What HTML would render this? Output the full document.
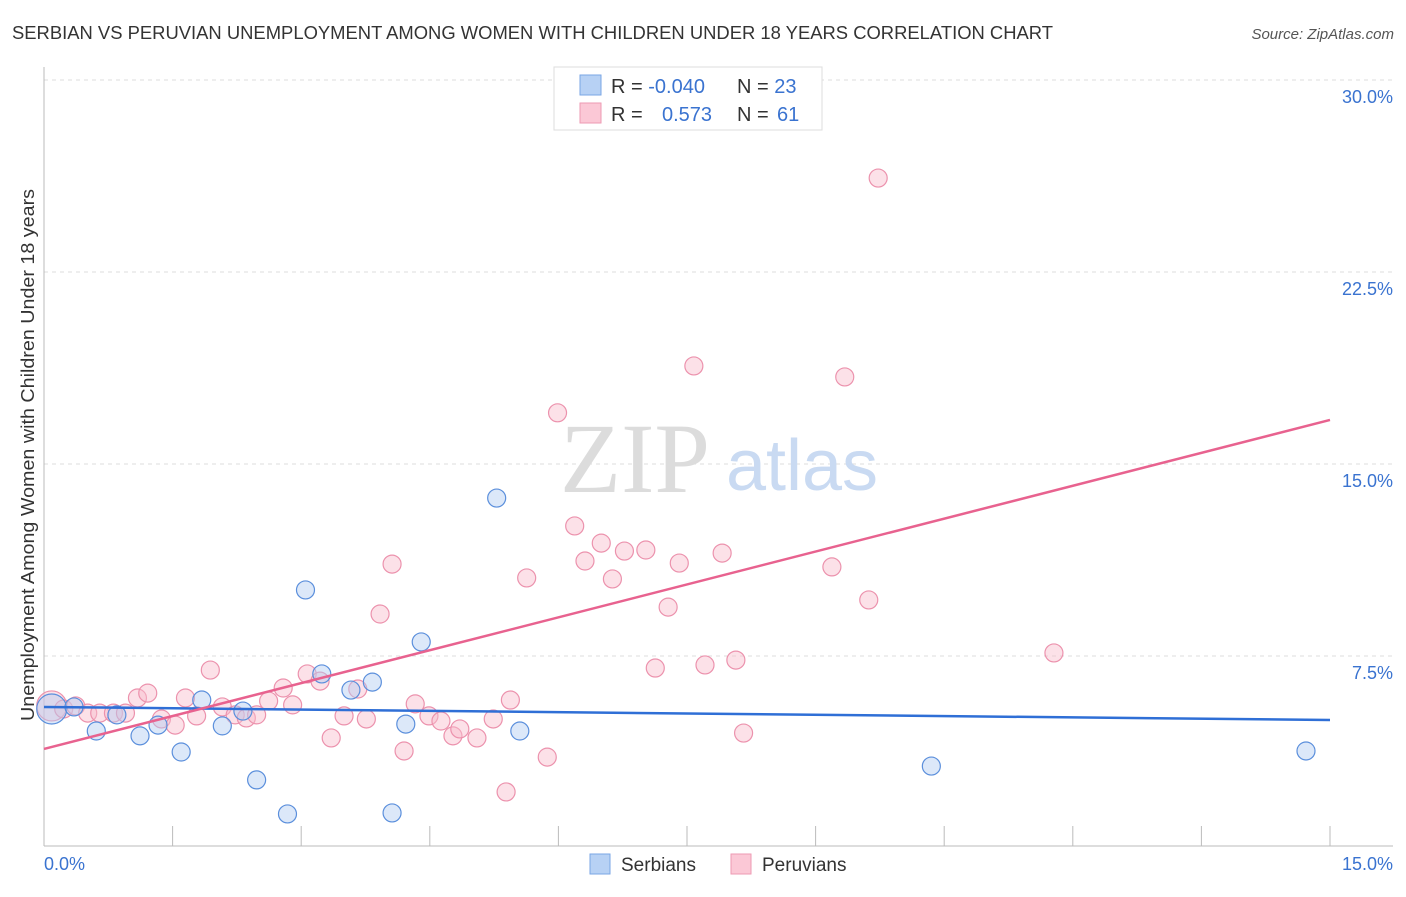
<!DOCTYPE html>
<html><head><meta charset="utf-8"><style>
body{margin:0;background:#fff;font-family:"Liberation Sans",sans-serif;}
</style></head><body>
<svg id="chart" width="1406" height="892" xmlns="http://www.w3.org/2000/svg" font-family="Liberation Sans, sans-serif">
<text x="12" y="39" font-size="18" fill="#333" textLength="1041" lengthAdjust="spacingAndGlyphs">SERBIAN VS PERUVIAN UNEMPLOYMENT AMONG WOMEN WITH CHILDREN UNDER 18 YEARS CORRELATION CHART</text>
<text x="1394" y="39" font-size="15" fill="#555" font-style="italic" text-anchor="end">Source: ZipAtlas.com</text>
<text x="0" y="0" transform="translate(34,455) rotate(-90)" font-size="18" fill="#333" text-anchor="middle" textLength="532" lengthAdjust="spacingAndGlyphs">Unemployment Among Women with Children Under 18 years</text>
<g id="grid"></g>
<g>
<text x="635" y="492" font-size="100" fill="#dcdcdc" font-family="Liberation Serif, serif" text-anchor="middle">ZIP</text>
<text x="802" y="490" font-size="72" fill="#c9daf2" text-anchor="middle">atlas</text>
</g>
<g id="marks"></g>
<g>
<rect x="554" y="67" width="268" height="63" fill="#fff" stroke="#ddd"/>
<rect x="580" y="75" width="21" height="20" fill="#b7d1f4" stroke="#7aa6e4"/>
<rect x="580" y="103" width="21" height="20" fill="#fbc8d6" stroke="#ee9ab3"/>
<text x="611" y="93" font-size="20" fill="#333">R = <tspan fill="#3a73d0">-0.040</tspan></text>
<text x="737" y="93" font-size="20" fill="#333">N = <tspan fill="#3a73d0">23</tspan></text>
<text x="611" y="121" font-size="20" fill="#333">R = <tspan fill="#3a73d0" x="662">0.573</tspan></text>
<text x="737" y="121" font-size="20" fill="#333">N = <tspan fill="#3a73d0" x="777">61</tspan></text>
</g>
<g>
<rect x="590" y="854" width="20" height="20" fill="#b7d1f4" stroke="#7aa6e4"/>
<text x="621" y="871" font-size="19" fill="#333">Serbians</text>
<rect x="731" y="854" width="20" height="20" fill="#fbc8d6" stroke="#ee9ab3"/>
<text x="762" y="871" font-size="19" fill="#333">Peruvians</text>
</g>
</svg>
<script>
const yTicks=[7.5,15,22.5,30];
const yTickLabels=["7.5%","15.0%","22.5%","30.0%"];
const xTickLabels=["0.0%","15.0%"];
const serbX=[0.09,0.35,0.61,0.85,1.12,1.33,1.60,1.84,2.08,2.32,2.48,2.84,3.05,3.24,3.58,3.83,4.06,4.22,4.40,5.28,5.55,10.35,14.72];
const serbY=[5.43,5.51,4.57,5.2,4.38,4.8,3.75,5.78,4.77,5.35,2.66,1.33,10.08,6.8,6.17,6.48,1.37,4.84,8.05,13.67,4.57,3.2,3.79];
const peruX=[0.09,0.23,0.37,0.51,0.65,0.81,0.95,1.09,1.21,1.37,1.53,1.65,1.78,1.94,2.08,2.23,2.36,2.48,2.62,2.79,2.90,3.07,3.22,3.35,3.50,3.66,3.76,3.92,4.06,4.20,4.33,4.49,4.63,4.77,4.85,5.05,5.24,5.39,5.44,5.63,5.87,5.99,6.19,6.31,6.50,6.63,6.77,7.02,7.13,7.28,7.41,7.58,7.71,7.91,8.07,8.16,9.19,9.34,9.62,9.73,11.78];
const peruY=[5.55,5.43,5.55,5.27,5.27,5.27,5.27,5.86,6.05,5.04,4.8,5.86,5.16,6.95,5.51,5.2,5.08,5.2,5.74,6.25,5.59,6.8,6.52,4.3,5.16,6.21,5.04,9.14,11.09,3.79,5.63,5.16,4.96,4.38,4.65,4.3,5.04,2.19,5.78,10.55,3.55,17.0,12.58,11.21,11.91,10.51,11.6,11.64,7.03,9.41,11.13,18.83,7.15,11.52,7.34,4.49,10.98,18.4,9.69,26.17,7.62];
const blueTrend=[5.51,5.0];
const pinkTrend=[3.87,16.72];
const NS="http://www.w3.org/2000/svg";
const X=v=>44+v/15*1286, Y=v=>848-v/7.5*192;
const grid=document.getElementById('grid'), marks=document.getElementById('marks');
function mk(tag,attrs,parent){const e=document.createElementNS(NS,tag);for(const k in attrs)e.setAttribute(k,attrs[k]);parent.appendChild(e);return e;}
yTicks.forEach((t,i)=>{
 const l=mk('line',{x1:44,x2:1393,y1:Y(t),y2:Y(t),stroke:'#ddd','stroke-dasharray':'4,4'},grid);
 
 
 const tx=mk('text',{x:1393,y:Y(t)+23,'font-size':18,fill:'#3a73d0','text-anchor':'end'},grid);tx.textContent=yTickLabels[i];
 
 
});
const ax=mk('line',{x1:44,x2:44,y1:67,y2:846,stroke:'#bbb'},grid);


const bx=mk('line',{x1:44,x2:1393,y1:846,y2:846,stroke:'#bbb'},grid);


for(let i=1;i<=10;i++){const t=mk('line',{x1:X(i*1.5),x2:X(i*1.5),y1:826,y2:846,stroke:'#bbb'},grid);
 
 }
[[0,'start',44],[15,'end',1393]].forEach((d,i)=>{const t=mk('text',{x:d[2],y:870,'font-size':18,fill:'#3a73d0','text-anchor':d[1]},grid);t.textContent=xTickLabels[i];
 
 });
function dots(xs,ys,fill,stroke,name){xs.forEach((x,i)=>{const c=mk('circle',{cx:X(x),cy:Y(ys[i]),r:i==0?15:9,fill:fill,'fill-opacity':0.45,stroke:stroke,'stroke-width':1.2},marks);
 
 });}
dots(peruX,peruY,'#f8bccd','#ec92ad','peruvian-point');
dots(serbX,serbY,'#b2cdf2','#5b8fdc','serbian-point');
const bl=mk('line',{x1:X(0),x2:X(15),y1:Y(blueTrend[0]),y2:Y(blueTrend[1]),stroke:'#2f6fd6','stroke-width':2.5},marks);


const pl=mk('line',{x1:X(0),x2:X(15),y1:Y(pinkTrend[0]),y2:Y(pinkTrend[1]),stroke:'#e8628f','stroke-width':2.5},marks);


</script>
</body></html>
